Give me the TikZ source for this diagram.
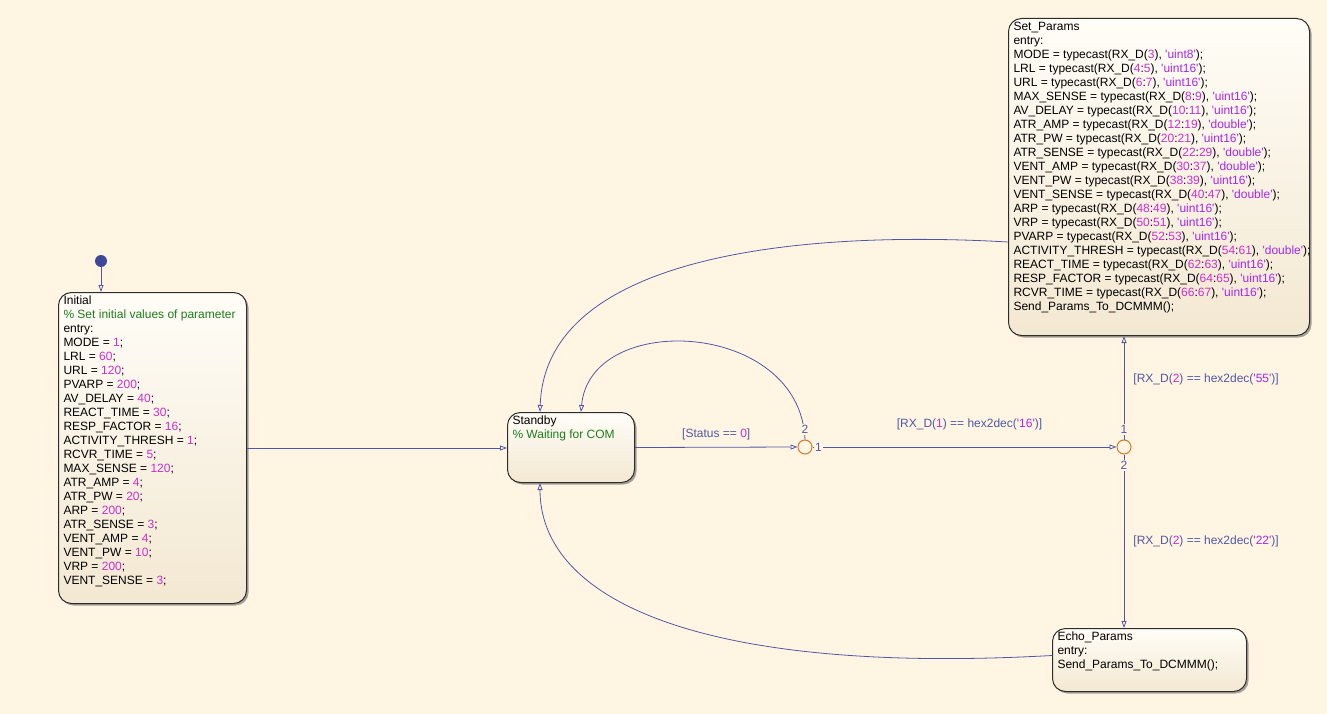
\documentclass[tikz,border=0pt]{standalone}
\usepackage{fontspec}
\setmainfont{Liberation Sans}
\usetikzlibrary{arrows.meta,shadows}

\definecolor{bgcream}{RGB}{255,245,226}
\definecolor{framegray}{RGB}{45,45,45}
\definecolor{boxtop}{RGB}{255,253,247}
\definecolor{boxbottom}{RGB}{243,232,210}
\definecolor{cmtgreen}{RGB}{30,125,30}
\definecolor{nummag}{RGB}{205,45,205}
\definecolor{strpurple}{RGB}{165,40,235}
\definecolor{transblue}{RGB}{80,88,165}
\definecolor{dotblue}{RGB}{62,72,155}
\definecolor{junctorange}{RGB}{210,120,40}

\newcommand\nv[1]{\textcolor{nummag}{#1}}
\newcommand\sv[1]{\textcolor{strpurple}{\textquotesingle#1\textquotesingle}}
\newcommand\cmt[1]{\textcolor{cmtgreen}{#1}}
\newcommand\tcast[4]{#1 = typecast(RX\_D(\nv{#2}:\nv{#3}), \sv{#4});}
\newcommand\stbody[3]{\parbox[t][#2][t]{#1}{\vspace{2pt}\begin{tabular}{@{\hspace{5pt}}l@{}}#3\end{tabular}}}

\tikzset{
  chartstate/.style={draw=framegray, line width=1pt, rounded corners=13pt,
    top color=boxtop, bottom color=boxbottom, inner sep=0pt, anchor=north west,
    drop shadow={shadow xshift=2pt, shadow yshift=-2pt, fill=black!70, opacity=.5},
    font=\fontsize{12}{14}\selectfont},
  trans/.style={draw=transblue, line width=.8pt, -{Triangle[open,length=7pt,width=5pt]}},
  junct/.style={circle, draw=junctorange, line width=1pt, fill=bgcream, minimum size=14pt, inner sep=0pt},
  guard/.style={text=transblue, font=\fontsize{12}{14}\selectfont, inner sep=1pt},
  jnum/.style={text=transblue, fill=bgcream, font=\fontsize{12}{14}\selectfont, inner sep=1pt}
}

\begin{document}
\begin{tikzpicture}[x=1pt,y=-1pt]
  \fill[bgcream] (0,0) rectangle (1327,714);
  \useasboundingbox (0,0) rectangle (1327,714);

  % states
  \node[chartstate] (initial) at (58,292) {\stbody{188pt}{311pt}{%
    Initial\\
    \cmt{\% Set initial values of parameter}\\
    entry:\\
    MODE = \nv{1};\\
    LRL = \nv{60};\\
    URL = \nv{120};\\
    PVARP = \nv{200};\\
    AV\_DELAY = \nv{40};\\
    REACT\_TIME = \nv{30};\\
    RESP\_FACTOR = \nv{16};\\
    ACTIVITY\_THRESH = \nv{1};\\
    RCVR\_TIME = \nv{5};\\
    MAX\_SENSE = \nv{120};\\
    ATR\_AMP = \nv{4};\\
    ATR\_PW = \nv{20};\\
    ARP = \nv{200};\\
    ATR\_SENSE = \nv{3};\\
    VENT\_AMP = \nv{4};\\
    VENT\_PW = \nv{10};\\
    VRP = \nv{200};\\
    VENT\_SENSE = \nv{3};}};
  \node[chartstate] (standby) at (507,412) {\stbody{127pt}{70pt}{%
    Standby\\
    \cmt{\% Waiting for COM}}};
  \node[chartstate] (setp) at (1008,18) {\stbody{301pt}{317pt}{%
    Set\_Params\\
    entry:\\
    MODE = typecast(RX\_D(\nv{3}), \sv{uint8});\\
    \tcast{LRL}{4}{5}{uint16}\\
    \tcast{URL}{6}{7}{uint16}\\
    \tcast{MAX\_SENSE}{8}{9}{uint16}\\
    \tcast{AV\_DELAY}{10}{11}{uint16}\\
    \tcast{ATR\_AMP}{12}{19}{double}\\
    \tcast{ATR\_PW}{20}{21}{uint16}\\
    \tcast{ATR\_SENSE}{22}{29}{double}\\
    \tcast{VENT\_AMP}{30}{37}{double}\\
    \tcast{VENT\_PW}{38}{39}{uint16}\\
    \tcast{VENT\_SENSE}{40}{47}{double}\\
    \tcast{ARP}{48}{49}{uint16}\\
    \tcast{VRP}{50}{51}{uint16}\\
    \tcast{PVARP}{52}{53}{uint16}\\
    \tcast{ACTIVITY\_THRESH}{54}{61}{double}\\
    \tcast{REACT\_TIME}{62}{63}{uint16}\\
    \tcast{RESP\_FACTOR}{64}{65}{uint16}\\
    \tcast{RCVR\_TIME}{66}{67}{uint16}\\
    Send\_Params\_To\_DCMMM();}};
  \node[chartstate] (echo) at (1052,628) {\stbody{194pt}{63pt}{%
    Echo\_Params\\
    entry:\\
    Send\_Params\_To\_DCMMM();}};

  % default transition and junctions
  \node[circle, fill=dotblue, minimum size=12pt, inner sep=0pt] (initdot) at (101,261) {};
  \node[junct] (j1) at (805,447) {};
  \node[junct] (j2) at (1124,447) {};

  % transitions
  \draw[trans] (initdot) -- (initdot |- initial.north);
  \draw[trans] (initial.east) -- (initial.east -| standby.west);
  \draw[trans] (standby.east) -- node[guard, yshift=13pt] {[Status == \nv{0}]} (j1.west);
  \draw[trans] (j1.east) -- node[guard, xshift=5pt, yshift=23pt] {[RX\_D(\nv{1}) == hex2dec(\sv{16})]} (j2.west);
  \draw[trans] (j2.north) -- node[guard, pos=.58, anchor=west, xshift=8pt] {[RX\_D(\nv{2}) == hex2dec(\sv{55})]} (j2 |- setp.south);
  \draw[trans] (j2.south) -- node[guard, pos=.5, anchor=west, xshift=8pt] {[RX\_D(\nv{2}) == hex2dec(\sv{22})]} (j2 |- echo.north);
  \draw[trans] (j1.north) .. controls (800,320) and (590,310) .. ([xshift=74pt]standby.north west);
  \draw[trans] ([yshift=-65pt]setp.west) .. controls (800,230) and (545,255) .. ([xshift=33pt]standby.north west);
  \draw[trans] ([yshift=4.5pt]echo.west) .. controls (700,675) and (540,600) .. ([xshift=33pt]standby.south west);

  % junction numbers
  \node[jnum] (j1top) at ([yshift=10pt]j1.north) {2};
  \node[jnum] (j1right) at ([xshift=6pt]j1.east) {1};
  \node[jnum] (j2top) at ([yshift=10pt]j2.north) {1};
  \node[jnum] (j2bot) at ([yshift=-11pt]j2.south) {2};
\end{tikzpicture}
\end{document}
